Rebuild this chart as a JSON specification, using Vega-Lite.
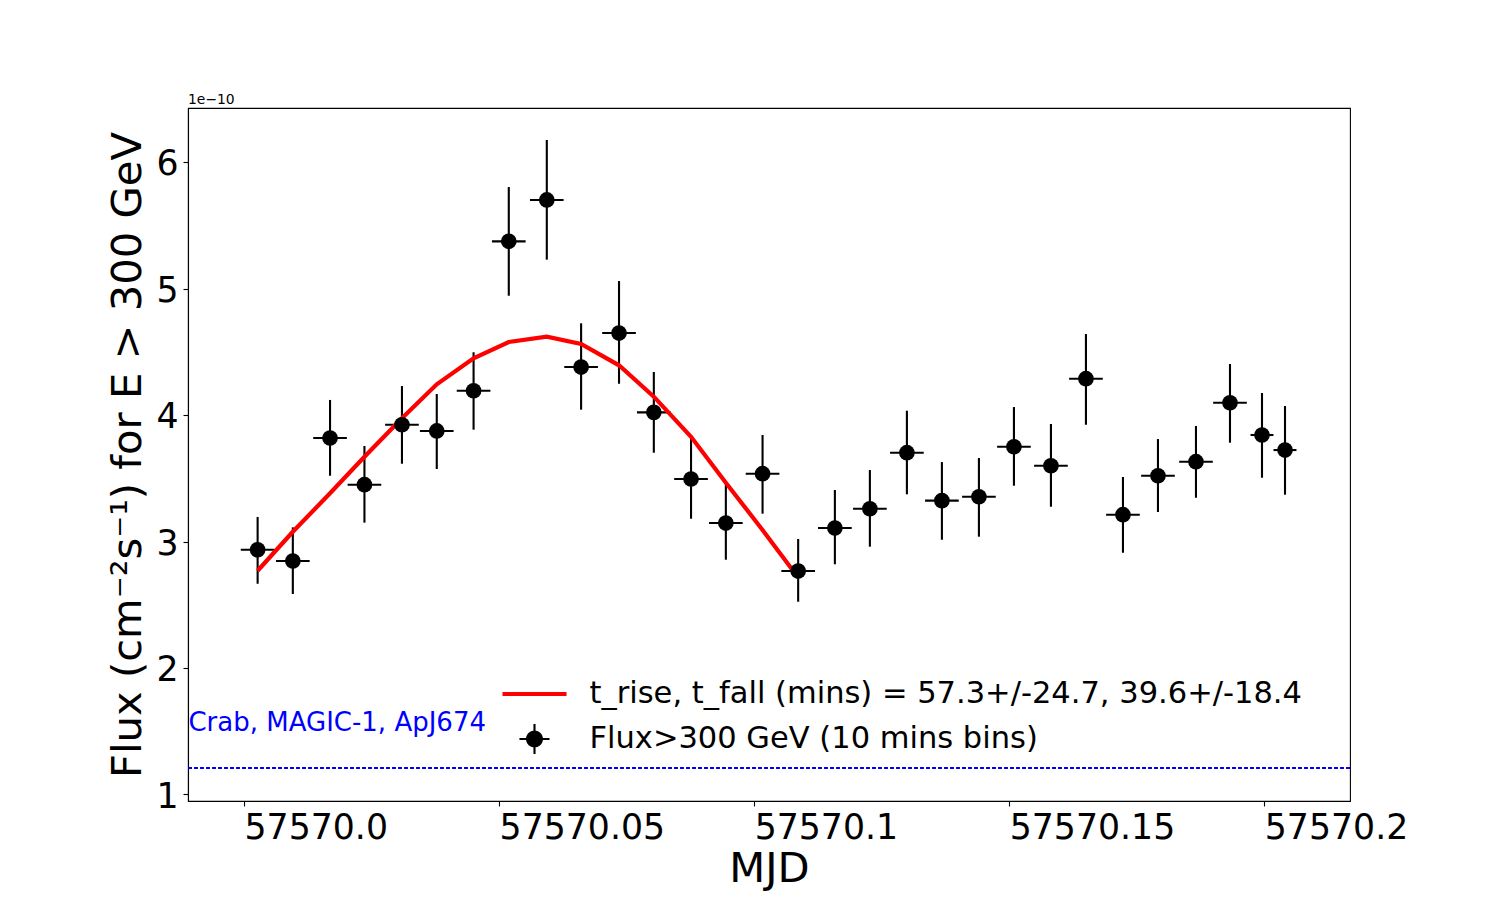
{
  "$schema": "https://vega.github.io/schema/vega-lite/v6.json",
  "width": 1162,
  "height": 693,
  "autosize": {"type": "none"},
  "padding": {"left": 188, "top": 108, "right": 150, "bottom": 99},
  "background": "white",
  "title": {"text": "1e−10", "anchor": "start", "frame": "group", "fontSize": 13.9, "fontWeight": "normal", "font": "DejaVu Sans", "color": "black", "offset": 1},
  "config": {
    "font": "DejaVu Sans",
    "view": {"stroke": "black", "strokeWidth": 1.1},
    "axis": {"grid": false, "domainColor": "black", "domainWidth": 1.1, "tickColor": "black", "tickWidth": 1.1, "tickSize": 5, "labelColor": "black", "titleColor": "black", "labelFont": "DejaVu Sans", "titleFont": "DejaVu Sans", "labelFontSize": 34.7, "titleFontSize": 41.7, "titleFontWeight": "normal", "labelOverlap": false, "labelFlush": false}
  },
  "datasets": {
    "flux": [
      {"mjd": 57570.002667, "flux": 2.935, "flux_lo": 2.666, "flux_hi": 3.194, "mjd_lo": 57569.999367, "mjd_hi": 57570.005967},
      {"mjd": 57570.009569, "flux": 2.846, "flux_lo": 2.585, "flux_hi": 3.112, "mjd_lo": 57570.006269, "mjd_hi": 57570.012869},
      {"mjd": 57570.016863, "flux": 3.818, "flux_lo": 3.520, "flux_hi": 4.119, "mjd_lo": 57570.013563, "mjd_hi": 57570.020163},
      {"mjd": 57570.023608, "flux": 3.449, "flux_lo": 3.149, "flux_hi": 3.755, "mjd_lo": 57570.020308, "mjd_hi": 57570.026908},
      {"mjd": 57570.030961, "flux": 3.923, "flux_lo": 3.615, "flux_hi": 4.229, "mjd_lo": 57570.027661, "mjd_hi": 57570.034261},
      {"mjd": 57570.037784, "flux": 3.874, "flux_lo": 3.573, "flux_hi": 4.166, "mjd_lo": 57570.034484, "mjd_hi": 57570.041084},
      {"mjd": 57570.045000, "flux": 4.192, "flux_lo": 3.884, "flux_hi": 4.496, "mjd_lo": 57570.041700, "mjd_hi": 57570.048300},
      {"mjd": 57570.051902, "flux": 5.373, "flux_lo": 4.943, "flux_hi": 5.802, "mjd_lo": 57570.048602, "mjd_hi": 57570.055202},
      {"mjd": 57570.059353, "flux": 5.700, "flux_lo": 5.228, "flux_hi": 6.174, "mjd_lo": 57570.056053, "mjd_hi": 57570.062653},
      {"mjd": 57570.066078, "flux": 4.379, "flux_lo": 4.042, "flux_hi": 4.725, "mjd_lo": 57570.062778, "mjd_hi": 57570.069378},
      {"mjd": 57570.073510, "flux": 4.648, "flux_lo": 4.247, "flux_hi": 5.059, "mjd_lo": 57570.070210, "mjd_hi": 57570.076810},
      {"mjd": 57570.080333, "flux": 4.021, "flux_lo": 3.702, "flux_hi": 4.340, "mjd_lo": 57570.077033, "mjd_hi": 57570.083633},
      {"mjd": 57570.087627, "flux": 3.494, "flux_lo": 3.180, "flux_hi": 3.813, "mjd_lo": 57570.084327, "mjd_hi": 57570.090927},
      {"mjd": 57570.094451, "flux": 3.146, "flux_lo": 2.856, "flux_hi": 3.465, "mjd_lo": 57570.091151, "mjd_hi": 57570.097751},
      {"mjd": 57570.101647, "flux": 3.536, "flux_lo": 3.220, "flux_hi": 3.842, "mjd_lo": 57570.098347, "mjd_hi": 57570.104947},
      {"mjd": 57570.108627, "flux": 2.767, "flux_lo": 2.524, "flux_hi": 3.020, "mjd_lo": 57570.105327, "mjd_hi": 57570.111927},
      {"mjd": 57570.115824, "flux": 3.107, "flux_lo": 2.820, "flux_hi": 3.407, "mjd_lo": 57570.112524, "mjd_hi": 57570.119124},
      {"mjd": 57570.122686, "flux": 3.259, "flux_lo": 2.959, "flux_hi": 3.565, "mjd_lo": 57570.119386, "mjd_hi": 57570.125986},
      {"mjd": 57570.129941, "flux": 3.702, "flux_lo": 3.373, "flux_hi": 4.034, "mjd_lo": 57570.126641, "mjd_hi": 57570.133241},
      {"mjd": 57570.136804, "flux": 3.323, "flux_lo": 3.014, "flux_hi": 3.628, "mjd_lo": 57570.133504, "mjd_hi": 57570.140104},
      {"mjd": 57570.144059, "flux": 3.354, "flux_lo": 3.038, "flux_hi": 3.660, "mjd_lo": 57570.140759, "mjd_hi": 57570.147359},
      {"mjd": 57570.150922, "flux": 3.749, "flux_lo": 3.441, "flux_hi": 4.063, "mjd_lo": 57570.147622, "mjd_hi": 57570.154222},
      {"mjd": 57570.158176, "flux": 3.599, "flux_lo": 3.275, "flux_hi": 3.929, "mjd_lo": 57570.154876, "mjd_hi": 57570.161476},
      {"mjd": 57570.165039, "flux": 4.287, "flux_lo": 3.923, "flux_hi": 4.640, "mjd_lo": 57570.161739, "mjd_hi": 57570.168339},
      {"mjd": 57570.172294, "flux": 3.212, "flux_lo": 2.911, "flux_hi": 3.510, "mjd_lo": 57570.168994, "mjd_hi": 57570.175594},
      {"mjd": 57570.179157, "flux": 3.520, "flux_lo": 3.233, "flux_hi": 3.810, "mjd_lo": 57570.175857, "mjd_hi": 57570.182457},
      {"mjd": 57570.186608, "flux": 3.631, "flux_lo": 3.346, "flux_hi": 3.913, "mjd_lo": 57570.183308, "mjd_hi": 57570.189908},
      {"mjd": 57570.193275, "flux": 4.097, "flux_lo": 3.781, "flux_hi": 4.403, "mjd_lo": 57570.189975, "mjd_hi": 57570.196575},
      {"mjd": 57570.199549, "flux": 3.842, "flux_lo": 3.504, "flux_hi": 4.174, "mjd_lo": 57570.197299, "mjd_hi": 57570.201799},
      {"mjd": 57570.204059, "flux": 3.723, "flux_lo": 3.370, "flux_hi": 4.071, "mjd_lo": 57570.201809, "mjd_hi": 57570.206309}
    ],
    "fitcurve": [
      {"mjd": 57570.002667, "model": 2.769},
      {"mjd": 57570.009569, "model": 3.077},
      {"mjd": 57570.016863, "model": 3.381},
      {"mjd": 57570.023608, "model": 3.670},
      {"mjd": 57570.030961, "model": 3.974},
      {"mjd": 57570.037784, "model": 4.243},
      {"mjd": 57570.045000, "model": 4.448},
      {"mjd": 57570.051902, "model": 4.577},
      {"mjd": 57570.059353, "model": 4.619},
      {"mjd": 57570.066078, "model": 4.561},
      {"mjd": 57570.073510, "model": 4.393},
      {"mjd": 57570.080333, "model": 4.145},
      {"mjd": 57570.087627, "model": 3.828},
      {"mjd": 57570.094451, "model": 3.465},
      {"mjd": 57570.101647, "model": 3.091},
      {"mjd": 57570.108627, "model": 2.715}
    ],
    "legendkeys": [
      {"series": "t_rise, t_fall (mins) = 57.3+/-24.7, 39.6+/-18.4"},
      {"series": "Flux>300 GeV (10 mins bins)"}
    ]
  },
  "layer": [
    {
      "data": {"name": "flux"},
      "mark": {"type": "rule", "color": "black", "strokeWidth": 2.1},
      "encoding": {
        "x": {
          "field": "mjd", "type": "quantitative",
          "scale": {"domain": [57569.98902, 57570.2168], "zero": false, "nice": false},
          "axis": {
            "orient": "bottom",
            "title": "MJD",
            "values": [57570, 57570.05, 57570.1, 57570.15, 57570.2],
            "labelExpr": "(round(datum.value*100) % 10 === 0) ? format(datum.value, '.1f') : format(datum.value, '.2f')",
            "labelAlign": "left", "labelBaseline": "alphabetic", "labelPadding": 32,
            "titleX": 581, "titleY": 80.7, "titleAlign": "center", "titleBaseline": "alphabetic"
          }
        },
        "y": {
          "field": "flux_lo", "type": "quantitative",
          "scale": {"domain": [0.9486, 6.427], "zero": false, "nice": false},
          "axis": {
            "orient": "left",
            "title": "Flux (cm⁻²s⁻¹) for E > 300 GeV",
            "values": [1, 2, 3, 4, 5, 6], "format": "d",
            "labelAlign": "right", "labelBaseline": "alphabetic", "labelOffset": 12.6, "labelPadding": 5,
            "titleX": -48, "titleY": 346.5, "titleAlign": "center", "titleBaseline": "alphabetic", "titleAngle": 270
          }
        },
        "y2": {"field": "flux_hi"}
      }
    },
    {
      "data": {"name": "flux"},
      "mark": {"type": "rule", "color": "black", "strokeWidth": 2.1},
      "encoding": {
        "x": {"field": "mjd_lo", "type": "quantitative"},
        "x2": {"field": "mjd_hi"},
        "y": {"field": "flux", "type": "quantitative"}
      }
    },
    {
      "data": {"values": [{}]},
      "mark": {"type": "rule", "color": "blue", "strokeWidth": 2, "strokeDash": [4, 2]},
      "encoding": {"y": {"datum": 1.21, "type": "quantitative"}}
    },
    {
      "data": {"values": [{"label": "Crab, MAGIC-1, ApJ674"}]},
      "mark": {"type": "text", "color": "blue", "fontSize": 26, "align": "left", "baseline": "alphabetic", "font": "DejaVu Sans"},
      "encoding": {
        "x": {"datum": 57569.9891, "type": "quantitative"},
        "y": {"datum": 1.5, "type": "quantitative"},
        "text": {"field": "label"}
      }
    },
    {
      "data": {"name": "fitcurve"},
      "mark": {"type": "line", "strokeWidth": 4.2, "color": "red"},
      "encoding": {
        "x": {"field": "mjd", "type": "quantitative"},
        "y": {"field": "model", "type": "quantitative"}
      }
    },
    {
      "data": {"name": "flux"},
      "mark": {"type": "point", "shape": "circle", "filled": true, "size": 246, "opacity": 1, "color": "black"},
      "encoding": {
        "x": {"field": "mjd", "type": "quantitative"},
        "y": {"field": "flux", "type": "quantitative"}
      }
    },
    {
      "data": {"name": "legendkeys"},
      "mark": {"type": "point", "filled": true, "opacity": 0},
      "encoding": {
        "color": {
          "field": "series", "type": "nominal",
          "scale": {"domain": ["t_rise, t_fall (mins) = 57.3+/-24.7, 39.6+/-18.4", "Flux>300 GeV (10 mins bins)"], "range": ["red", "black"]},
          "legend": {
            "orient": "none", "legendX": 330.5, "legendY": 570, "title": null, "direction": "vertical",
            "labelFontSize": 30.5, "labelFont": "DejaVu Sans", "labelColor": "black", "labelOffset": 39, "labelLimit": 1200,
            "rowPadding": 13, "padding": 0, "symbolSize": 1024, "symbolStrokeWidth": 0, "symbolOpacity": 1
          }
        },
        "shape": {
          "field": "series", "type": "nominal",
          "scale": {"domain": ["t_rise, t_fall (mins) = 57.3+/-24.7, 39.6+/-18.4", "Flux>300 GeV (10 mins bins)"], "range": ["M-2,-0.131H2V0.131H-2Z", "M-0.94,-0.066H0.94V0.066H-0.94Z M-0.066,-0.94H0.066V0.94H-0.066Z M0.53,0A0.53,0.53,0,1,1,-0.53,0A0.53,0.53,0,1,1,0.53,0Z"]},
          "legend": {
            "orient": "none", "legendX": 330.5, "legendY": 570, "title": null, "direction": "vertical",
            "labelFontSize": 30.5, "labelFont": "DejaVu Sans", "labelColor": "black", "labelOffset": 39, "labelLimit": 1200,
            "rowPadding": 13, "padding": 0, "symbolSize": 1024, "symbolStrokeWidth": 0, "symbolOpacity": 1
          }
        }
      }
    }
  ]
}
